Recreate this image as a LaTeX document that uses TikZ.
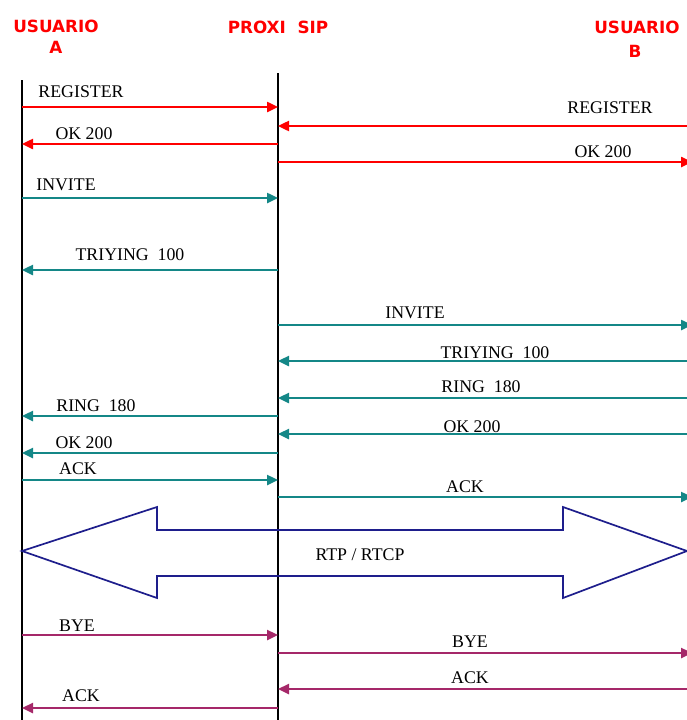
\documentclass[tikz,border=0pt]{standalone}
\usepackage{fontspec}
\setmainfont{Liberation Serif}
\newfontfamily\hdrfont{DejaVu Sans}
\usetikzlibrary{arrows.meta}
\definecolor{hred}{RGB}{255,0,0}
\definecolor{mred}{RGB}{255,0,0}
\definecolor{mteal}{RGB}{20,135,135}
\definecolor{mnavy}{RGB}{30,30,140}
\definecolor{mplum}{RGB}{165,40,105}
\begin{document}
\begin{tikzpicture}[x=1pt,y=-1pt,
  hdr/.style={font=\hdrfont\bfseries\fontsize{16.8}{19}\selectfont, text=hred, inner sep=0pt, anchor=base},
  lbl/.style={font=\fontsize{17.8}{20}\selectfont, inner sep=0pt, anchor=base},
  msg/.style={line width=2.4pt, -{Triangle[length=11pt,width=10pt]}},
  life/.style={line width=1.5pt, black},
  rtp/.style={line width=1.7pt, mnavy, line join=miter}]
\useasboundingbox (0,0) rectangle (687,720);
% headers
\node[hdr] (hA) at (56,32) {USUARIO};
\node[hdr] (hA2) at (56,53) {A};
\node[hdr] (hP) at (278,33) {PROXI\ \ SIP};
\node[hdr] (hB) at (637,33) {USUARIO};
\node[hdr] (hB2) at (635,57) {B};
% lifelines
\coordinate (Atop) at (22,80);
\coordinate (Abot) at (22,720);
\coordinate (Ptop) at (278,73);
\coordinate (Pbot) at (278,720);
\draw[life] (Atop) -- (Abot);
\draw[life] (Ptop) -- (Pbot);
% coordinates of messages
\foreach \n/\y in {1/107,2/126,3/144,4/162,5/198,6/270,7/325,8/361,9/398,10/416,11/434,12/453,13/480,14/497,15/635,16/653,17/689,18/708}{
  \coordinate (a\n) at (22,\y);
  \coordinate (p\n) at (278,\y);
  \coordinate (b\n) at (692,\y);
}
% REGISTER phase
\draw[msg, mred] (a1) -- (p1);
\node[lbl] (l1) at (81,97) {REGISTER};
\draw[msg, mred] (b2) -- (p2);
\node[lbl] (l2) at (610,113) {REGISTER};
\draw[msg, mred] (p3) -- (a3);
\node[lbl] (l3) at (84,139) {OK 200};
\draw[msg, mred] (p4) -- (b4);
\node[lbl] (l4) at (603,157) {OK 200};
% INVITE phase
\draw[msg, mteal] (a5) -- (p5);
\node[lbl] (l5) at (66,190) {INVITE};
\draw[msg, mteal] (p6) -- (a6);
\node[lbl] (l6) at (130,260) {TRIYING\ \ 100};
\draw[msg, mteal] (p7) -- (b7);
\node[lbl] (l7) at (415,318) {INVITE};
\draw[msg, mteal] (b8) -- (p8);
\node[lbl] (l8) at (495,358) {TRIYING\ \ 100};
\draw[msg, mteal] (b9) -- (p9);
\node[lbl] (l9) at (481,392) {RING\ \ 180};
\draw[msg, mteal] (p10) -- (a10);
\node[lbl] (l10) at (96,411) {RING\ \ 180};
\draw[msg, mteal] (b11) -- (p11);
\node[lbl] (l11) at (472,432) {OK 200};
\draw[msg, mteal] (p12) -- (a12);
\node[lbl] (l12) at (84,448) {OK 200};
\draw[msg, mteal] (a13) -- (p13);
\node[lbl] (l13) at (78,474) {ACK};
\draw[msg, mteal] (p14) -- (b14);
\node[lbl] (l14) at (465,492) {ACK};
% RTP double arrow
\draw[rtp] (22,551) -- (157,507) -- (157,530) -- (563,530) -- (563,507)
  -- (687,551) -- (563,598) -- (563,576) -- (157,576) -- (157,598) -- cycle;
\node[lbl] (lrtp) at (360,560) {RTP / RTCP};
% BYE phase
\draw[msg, mplum] (a15) -- (p15);
\node[lbl] (l15) at (77,631) {BYE};
\draw[msg, mplum] (p16) -- (b16);
\node[lbl] (l16) at (470,647) {BYE};
\draw[msg, mplum] (b17) -- (p17);
\node[lbl] (l17) at (470,683) {ACK};
\draw[msg, mplum] (p18) -- (a18);
\node[lbl] (l18) at (81,701) {ACK};
\end{tikzpicture}
\end{document}
